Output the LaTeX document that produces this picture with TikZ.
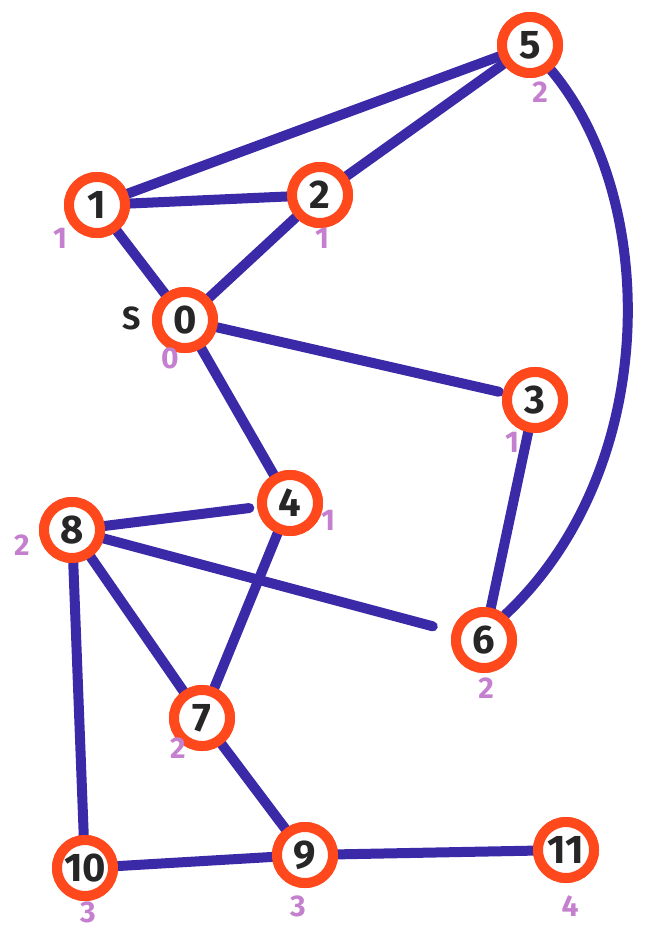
\documentclass[tikz,border=0pt]{standalone}
\usepackage{fontspec}
\setmainfont{Fira Sans}
\definecolor{edgeblue}{RGB}{58,42,168}
\definecolor{ringred}{RGB}{255,72,28}
\definecolor{lblpurple}{RGB}{196,128,206}
\tikzset{
  vert/.style={circle, draw=ringred, line width=10pt, fill=white, minimum size=56pt, inner sep=0pt, font=\fontsize{40}{40}\selectfont\bfseries, text=black!85},
  edge/.style={draw=edgeblue, line width=10pt, line cap=round},
  lbl/.style={text=lblpurple, font=\fontsize{30}{30}\selectfont\bfseries}
}
\begin{document}
\begin{tikzpicture}[x=1pt,y=-1pt]
\useasboundingbox (0,0) rectangle (657,934);
\coordinate (c5) at (530,45);
\coordinate (c1) at (97,205);
\coordinate (c2) at (320,195);
\coordinate (c0) at (185,320);
\coordinate (c3) at (535,400);
\coordinate (c4) at (290,503);
\coordinate (c8) at (72,530);
\coordinate (c6) at (484,640);
\coordinate (c7) at (202,718);
\coordinate (c10) at (85,868);
\coordinate (c9) at (305,855);
\coordinate (c11) at (566,850);
\node[vert] (n5) at (c5) {5};
\node[vert] (n1) at (c1) {1};
\node[vert] (n2) at (c2) {2};
\node[vert] (n0) at (c0) {0};
\node[vert] (n3) at (c3) {3};
\node[vert] (n4) at (c4) {4};
\node[vert] (n8) at (c8) {8};
\node[vert] (n6) at (c6) {6};
\node[vert] (n7) at (c7) {7};
\node[vert] (n10) at (c10) {10};
\node[vert] (n9) at (c9) {9};
\node[vert] (n11) at (c11) {11};
\draw[edge] (n1) -- (n5);
\draw[edge] (n2) -- (n5);
\draw[edge] (n1) -- (n2);
\draw[edge] (n1) -- (n0);
\draw[edge] (n2) -- (n0);
\draw[edge, shorten >=4pt] (n0) -- (n3);
\draw[edge] (n0) -- (n4);
\draw[edge] (n5.-50) .. controls (660,200) and (660,470) .. (n6.50);
\draw[edge] (n3) -- (n6);
\draw[edge, shorten >=8pt] (n8) -- (n4);
\draw[edge, shorten >=20pt] (n8) -- (n6);
\draw[edge] (n4) -- (n7);
\draw[edge] (n8) -- (n7);
\draw[edge] (n8) -- (n10);
\draw[edge] (n7) -- (n9);
\draw[edge] (n10) -- (n9);
\draw[edge] (n9) -- (n11);
% redraw rings on top of the connector ends
\foreach \n/\t in {n5/5,n1/1,n2/2,n0/0,n3/3,n4/4,n8/8,n6/6,n7/7,n10/10,n9/9,n11/11}{
  \node[vert] at (\n) {\t};
}
\node[lbl] (l5) at (540,92) {2};
\node[lbl] (l1) at (60,238) {1};
\node[lbl] (l2) at (322,238) {1};
\node[lbl] (l0) at (170,358) {0};
\node[text=black!85, font=\fontsize{32}{32}\selectfont\bfseries] (s0) at (132,318) {S};
\node[lbl] (l3) at (512,442) {1};
\node[lbl] (l4) at (328,520) {1};
\node[lbl] (l8) at (22,545) {2};
\node[lbl] (l6) at (486,688) {2};
\node[lbl] (l7) at (178,748) {2};
\node[lbl] (l10) at (88,912) {3};
\node[lbl] (l9) at (298,906) {3};
\node[lbl] (l11) at (570,906) {4};
\end{tikzpicture}
\end{document}
